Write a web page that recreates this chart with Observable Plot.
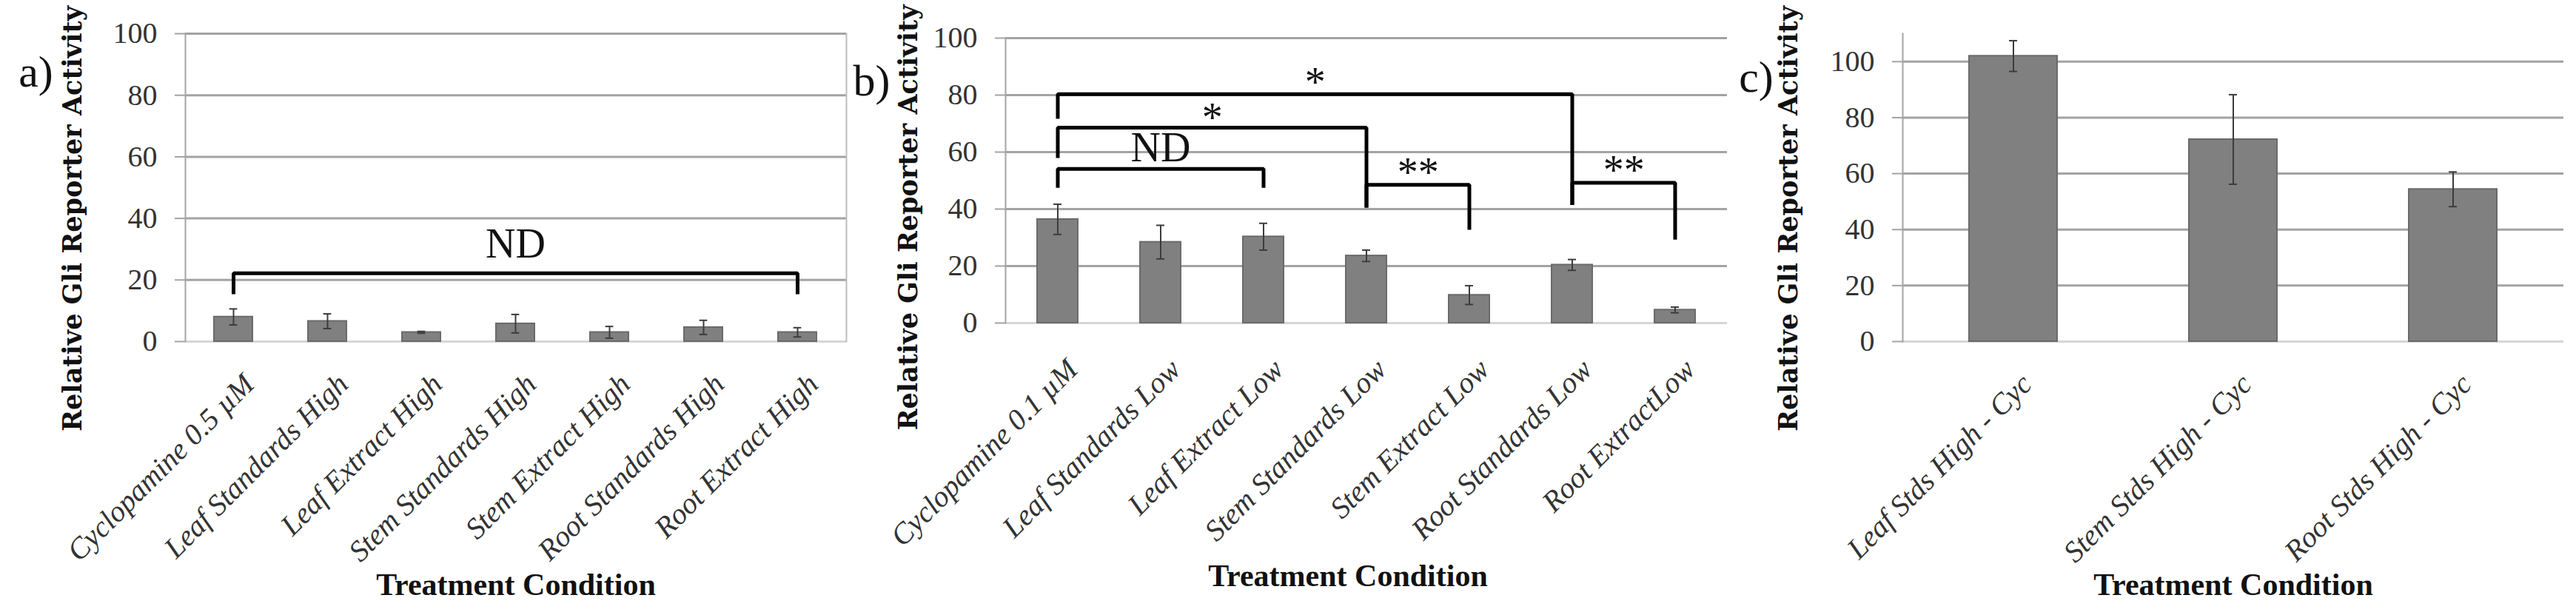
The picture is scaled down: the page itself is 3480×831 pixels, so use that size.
<!DOCTYPE html>
<html>
<head>
<meta charset="utf-8">
<script src="https://cdn.jsdelivr.net/npm/d3@7"></script>
<script src="https://cdn.jsdelivr.net/npm/@observablehq/plot@0.6"></script>
<style>
  html, body { margin: 0; padding: 0; background: #fff; }
  body { width: 3480px; height: 831px; position: relative; overflow: hidden; }
  .panel { position: absolute; top: 0; }
  .panel svg { overflow: visible; }
</style>
</head>
<body>
<div id="pa" class="panel" style="left:0px"></div>
<div id="pb" class="panel" style="left:1140px"></div>
<div id="pc" class="panel" style="left:2340px"></div>
<script>
// ---------- data ----------
const yTicks = [0, 20, 40, 60, 80, 100];

const catsA = ["Cyclopamine 0.5 µM", "Leaf Standards High", "Leaf Extract High", "Stem Standards High", "Stem Extract High", "Root Standards High", "Root Extract High"];
const valsA = [8.0, 6.6, 3.0, 5.8, 3.0, 4.6, 3.0];
const errA  = [2.6, 2.4, 0.3, 3.0, 1.9, 2.3, 1.5];
const bracketsA = [
  {from: 0, to: 6, level: 22.2, fromEnd: 15.4, toEnd: 15.4, label: "ND", labelY: 31.7}
];

const catsB = ["Cyclopamine 0.1 µM", "Leaf Standards Low", "Leaf Extract Low", "Stem Standards Low", "Stem Extract Low", "Root Standards Low", "Root ExtractLow"];
const valsB = [36.4, 28.4, 30.3, 23.6, 9.8, 20.4, 4.6];
const errB  = [5.3, 5.9, 4.7, 2.0, 3.3, 1.9, 1.0];
const bracketsB = [
  {from: 0, to: 2, level: 54.1, fromEnd: 47.5, toEnd: 47.5, label: "ND", labelY: 61.3},
  {from: 0, to: 3, level: 68.6, fromEnd: 57.9, toEnd: 40.5, label: "*",  labelY: 71.8},
  {from: 0, to: 5, level: 80.3, fromEnd: 71.7, toEnd: 41.4, label: "*",  labelY: 84.2},
  {from: 3, to: 4, level: 48.5, fromEnd: 40.5, toEnd: 32.7, label: "**", labelY: 52.6},
  {from: 5, to: 6, level: 49.2, fromEnd: 41.4, toEnd: 29.3, label: "**", labelY: 53.4}
];

const catsC = ["Leaf Stds High - Cyc", "Stem Stds High - Cyc", "Root Stds High - Cyc"];
const valsC = [102.0, 72.2, 54.4];
const errC  = [5.5, 16.0, 6.2];
const bracketsC = [];

const yLabel = "Relative Gli Reporter Activity";
const xLabel = "Treatment Condition";

// ---------- drawing ----------
const serif = "Liberation Serif, Times New Roman, serif";

function panel(cfg) {
  const {el, width, height = 831, mL, mR, mT, mB, cats, vals, errs, brackets, yMax, padInner,
         letter, letterDx, letterDy, ylDx, ylDy, xlDx, xlDy, tickPad, catDx, rightBorder} = cfg;
  const table = cats.map((c, i) => ({cat: c, v: vals[i], e: errs[i]}));
  const plotW = width - mL - mR;
  const step = plotW / cats.length;
  const bw = step * (1 - padInner);
  const capW = 11;
  const capInset = (bw - capW) / 2;

  const pts = brackets.flatMap((b, k) => [
    {k, cat: cats[b.from], y: b.fromEnd},
    {k, cat: cats[b.from], y: b.level},
    {k, cat: cats[b.to], y: b.level},
    {k, cat: cats[b.to], y: b.toEnd}
  ]);
  const labels = brackets.map(b => {
    const mid = (b.from + b.to) / 2;
    const base = Math.floor(mid);
    return {cat: cats[base], y: b.labelY, text: b.label, off: (mid - base) * step};
  });

  const marks = [
    Plot.ruleY(yTicks.filter(d => d > 0), {stroke: "#a3a3a3", strokeWidth: 3}),
    Plot.ruleY([0], {stroke: "#d6d6d6", strokeWidth: 3}),
    Plot.frame({anchor: "left", stroke: "#a3a3a3", strokeWidth: 2}),
    rightBorder ? Plot.frame({anchor: "right", stroke: "#bdbdbd", strokeWidth: 2}) : null,
    // y ticks (marks) and tick labels
    Plot.axisY(yTicks, {tickSize: 14, tickFormat: () => "", stroke: "#a3a3a3", strokeWidth: 2, label: null}),
    Plot.text(yTicks, {y: d => d, text: d => String(d), frameAnchor: "left", dx: -38, textAnchor: "end", lineAnchor: "middle",
      fontSize: 40, fontFamily: serif, fill: "#333"}),
    // category labels
    Plot.text(cats, {x: d => d, text: d => d, frameAnchor: "bottom", dx: catDx, dy: tickPad, rotate: -45,
      textAnchor: "end", lineAnchor: "top", fontSize: 40, fontFamily: serif, fontStyle: "italic", fill: "#333"}),
    Plot.barY(table, {x: "cat", y: "v", fill: "#808080", stroke: "#6a6a6a", strokeWidth: 2}),
    Plot.ruleX(table, {x: "cat", y1: d => d.v - d.e, y2: d => d.v + d.e, stroke: "#3c3c3c", strokeWidth: 2}),
    Plot.tickY(table, {x: "cat", y: d => d.v + d.e, stroke: "#3c3c3c", strokeWidth: 2, insetLeft: capInset, insetRight: capInset}),
    Plot.tickY(table, {x: "cat", y: d => d.v - d.e, stroke: "#3c3c3c", strokeWidth: 2, insetLeft: capInset, insetRight: capInset}),
    Plot.line(pts, {x: "cat", y: "y", z: "k", stroke: "#000", strokeWidth: 5, strokeLinejoin: "miter", strokeLinecap: "butt"}),
    Plot.text(labels, {x: "cat", y: "y", text: "text", fontSize: 56, fontFamily: serif, fill: "#111", lineAnchor: "middle",
      render(index, scales, values, dims, ctx, next) {
        const g = next(index, scales, values, dims, ctx);
        d3.select(g).selectAll("text").each(function(_, j) {
          const i = index[j];
          const cur = +this.getAttribute("x") || 0;
          this.setAttribute("x", cur + labels[i].off);
        });
        return g;
      }}),
    Plot.text([letter], {text: d => d, frameAnchor: "top-left", dx: letterDx, dy: letterDy, textAnchor: "middle", lineAnchor: "middle", fontSize: 60, fontFamily: serif, fill: "#111"}),
    Plot.text([yLabel], {text: d => d, frameAnchor: "left", rotate: -90, dx: ylDx, dy: ylDy, textAnchor: "middle", lineAnchor: "middle", fontSize: 35, fontWeight: "bold", fontFamily: "DejaVu Serif, serif", fill: "#111"}),
    Plot.text([xLabel], {text: d => d, frameAnchor: "bottom", dx: xlDx, dy: xlDy, textAnchor: "middle", lineAnchor: "middle", fontSize: 42, fontWeight: "bold", fontFamily: serif, fill: "#111"})
  ].filter(Boolean);

  const chart = Plot.plot({
    width, height,
    marginLeft: mL, marginRight: mR, marginTop: mT, marginBottom: mB,
    style: {background: "transparent", overflow: "visible", fontFamily: serif},
    x: {type: "band", domain: cats, paddingInner: padInner, paddingOuter: padInner / 2, align: 0.5, axis: null},
    y: {domain: [0, yMax], axis: null},
    marks
  });
  document.getElementById(el).appendChild(chart);
}

panel({el: "pa", width: 1160, mL: 250, mR: 17, mT: 45, mB: 370, cats: catsA, vals: valsA, errs: errA, brackets: bracketsA,
  yMax: 100, padInner: 0.59, letter: "a)", letterDx: -202, letterDy: 52, ylDx: -152, ylDy: 42, xlDx: 0, xlDy: 329,
  tickPad: 40, catDx: 10, rightBorder: true});
panel({el: "pb", width: 1200, mL: 218, mR: 7, mT: 51, mB: 395, cats: catsB, vals: valsB, errs: errB, brackets: bracketsB,
  yMax: 100, padInner: 0.605, letter: "b)", letterDx: -181, letterDy: 58, ylDx: -131, ylDy: 50, xlDx: -25, xlDy: 342,
  tickPad: 45, catDx: 9, rightBorder: false});
panel({el: "pc", width: 1140, mL: 230, mR: 17, mT: 45, mB: 370, cats: catsC, vals: valsC, errs: errC, brackets: bracketsC,
  yMax: 110, padInner: 0.6, letter: "c)", letterDx: -198, letterDy: 59, ylDx: -154, ylDy: 42, xlDx: 0, xlDy: 329,
  tickPad: 40, catDx: 7, rightBorder: false});
</script>
</body>
</html>
